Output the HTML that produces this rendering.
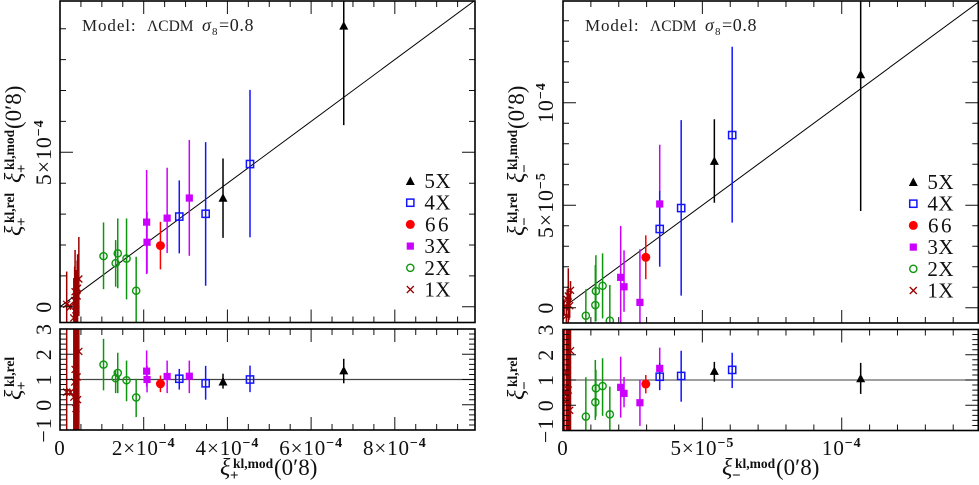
<!DOCTYPE html>
<html lang="en">
<head>
<meta charset="utf-8">
<title>Cosmic shear ratios</title>
<style>
html,body{margin:0;padding:0;background:#fff;width:979px;height:485px;overflow:hidden}
svg{display:block;font-family:"Liberation Serif",serif;fill:#111}
</style>
</head>
<body>
<svg id="chart" xmlns="http://www.w3.org/2000/svg" width="979" height="485" viewBox="0 0 979 485"></svg>
<script>
// Group order shared by both legends
const legendGroups = ['5X','4X','66','3X','2X','1X'];

// LEFT PANEL (x, y in units of 1e-4)
const plusGroups = ['1X','1X','1X','1X','1X','1X','1X','1X','1X','2X','2X','2X','2X','2X','3X','3X','3X','3X','66','4X','4X','4X','5X','5X'];
const plusX =      [0.16,0.25,0.33,0.36,0.38,0.35,0.41,0.42,0.45,1.04,1.38,1.33,1.59,1.82,3.09,2.56,2.07,2.08,2.40,4.54,3.48,2.85,6.78,3.895];
const plusY =      [0.08,0.00,-0.36,0.49,-0.10,0.20,0.35,0.60,0.90,1.64,1.73,1.41,1.56,0.52,3.52,2.87,2.74,2.09,1.98,4.62,3.01,2.92,9.10,3.53];
const plusYHi =    [1.14,0.10,0.93,1.84,1.19,1.30,1.50,1.70,2.26,2.73,2.86,2.16,2.86,1.62,5.40,4.50,4.43,3.08,2.75,7.02,5.33,4.09,12.3,4.80];
const plusYLo =    [-1.0,-0.10,-1.0,-0.50,-1.0,-0.90,-0.70,-0.50,-0.30,0.57,0.60,0.65,0.24,-0.58,1.65,1.74,1.06,1.09,1.21,2.25,0.68,1.73,5.88,2.23];
const plusRatio =  [0.50,0.50,0.30,1.40,-0.15,0.90,1.10,0.20,2.11,1.59,1.26,1.05,0.97,0.29,1.13,1.12,1.33,1.00,0.83,1.00,0.85,1.03,1.36,0.92];
const plusRatioHi =[5.0,0.60,5.0,5.0,5.0,5.0,5.0,5.0,5.0,2.61,2.06,1.36,1.75,1.03,1.75,1.75,2.15,1.55,1.16,1.55,1.54,1.42,1.82,1.23];
const plusRatioLo =[-3.0,0.40,-3.0,-3.0,-3.0,-3.0,-3.0,-3.0,-3.0,0.57,0.46,0.46,0.14,-0.49,0.46,0.46,0.72,0.49,0.50,0.50,0.20,0.60,0.85,0.64];
const plusXTicks = [0,2,4,6,8];
const plusXTickLabels = ['0','2×10^−4','4×10^−4','6×10^−4','8×10^−4'];
const plusYTicks = [0,5];
const plusYTickLabels = ['0','5×10^−4'];

// RIGHT PANEL (x, y in units of 1e-5)
const minusGroups = ['1X','1X','1X','1X','1X','1X','2X','2X','2X','2X','2X','3X','3X','3X','3X','66','4X','4X','4X','5X','5X'];
const minusX =      [0.04,0.12,0.15,0.19,0.24,0.27,0.82,1.16,1.18,1.42,1.68,2.76,2.07,2.19,3.47,2.97,6.07,4.24,3.47,10.68,5.43];
const minusY =      [0.05,-0.40,0.40,0.57,0.10,0.85,-0.39,0.13,0.81,1.07,-0.63,0.26,1.48,1.02,5.06,2.46,8.42,4.86,3.84,11.39,7.16];
const minusYHi =    [0.40,0.10,0.90,1.92,0.70,1.30,0.90,2.08,2.56,2.65,1.11,2.85,3.99,2.80,7.95,3.53,12.73,9.15,5.70,18.0,9.19];
const minusYLo =    [-0.40,-1.0,-0.10,-0.80,-0.50,0.30,-1.70,-0.68,-0.66,-0.52,-2.0,-2.30,-1.0,-0.20,2.13,1.39,4.15,0.59,2.00,4.72,5.12];
const minusRatio =  [0.50,1.30,0.20,0.60,-0.20,2.16,-0.45,0.12,0.67,0.76,-0.36,0.10,0.71,0.47,1.46,0.84,1.40,1.16,1.13,1.07,1.36];
const minusRatioHi =[5.0,5.0,5.0,5.0,5.0,5.0,1.11,1.79,1.40,1.86,0.74,1.00,1.92,1.12,2.28,1.20,2.08,2.16,1.67,1.68,1.72];
const minusRatioLo =[-3.0,-3.0,-3.0,-3.0,-3.0,-3.0,-1.5,-0.58,-0.45,-0.42,-1.5,-0.82,-0.49,-0.08,0.60,0.47,0.68,0.14,0.60,0.45,0.93];
const minusXTicks = [0,5,10];
const minusXTickLabels = ['0','5×10^−5','10^−4'];
const minusYTicks = [0,5,10];
const minusYTickLabels = ['0','5×10^−5','10^−4'];

// Shared ratio axis
const ratioTicks = [-1,0,1,2,3];
const ratioTickLabels = ['−1','0','1','2','3'];

const NS = 'http://www.w3.org/2000/svg';
const svg = document.getElementById('chart');
const palette = {'5X':'#000000','4X':'#1414ff','66':'#ff0000','3X':'#cc00ff','2X':'#0f960f','1X':'#990000'};

function el(tag, attrs, parent){
  const e = document.createElementNS(NS, tag);
  for (const k in attrs) e.setAttribute(k, attrs[k]);
  parent.appendChild(e);
  return e;
}
function scale(d0, d1, r0, r1){
  return v => r0 + (v - d0) * (r1 - r0) / (d1 - d0);
}

function drawMarker(parent, group, cx, cy){
  const c = palette[group];
  let m;
  if (group === '5X') {
    m = el('polygon', {points:`${cx-4.5},${cy+4} ${cx+4.5},${cy+4} ${cx},${cy-4.5}`, fill:c}, parent);
  } else if (group === '4X') {
    m = el('rect', {x:cx-3.6, y:cy-3.6, width:7.2, height:7.2, fill:'none', stroke:c, 'stroke-width':1.5}, parent);
  } else if (group === '66') {
    m = el('circle', {cx:cx, cy:cy, r:4.5, fill:c}, parent);
  } else if (group === '3X') {
    m = el('rect', {x:cx-3.6, y:cy-3.6, width:7.2, height:7.2, fill:c}, parent);
  } else if (group === '2X') {
    m = el('circle', {cx:cx, cy:cy, r:3.6, fill:'none', stroke:c, 'stroke-width':1.4}, parent);
  } else {
    m = el('path', {d:`M${cx-3.5} ${cy-3.5}L${cx+3.5} ${cy+3.5}M${cx-3.5} ${cy+3.5}L${cx+3.5} ${cy-3.5}`, fill:'none', stroke:c, 'stroke-width':1.3}, parent);
  }
  
  
}

function tickLabel(parent, label, x, y, rotated, size){
  const parts = label.split('^');
  const t = el('text', {
    'font-size':size, 'text-anchor':'middle', 'letter-spacing':0.9, fill:'#111',
    transform:`translate(${x},${y})` + (rotated ? ' rotate(-90)' : '')
  }, parent);
  
  
  const base = document.createElementNS(NS, 'tspan');
  base.textContent = parts[0];
  t.appendChild(base);
  if (parts[1]) {
    const sup = document.createElementNS(NS, 'tspan');
    sup.setAttribute('dy', -8);
    sup.setAttribute('font-size', 14);
    sup.setAttribute('font-weight', 'bold');
    sup.textContent = parts[1];
    t.appendChild(sup);
  }
}

function xiTitle(parent, x, y, rotated, sign, kind, withArg, name){
  const g = el('g', {transform:`translate(${x},${y})` + (rotated ? ' rotate(-90)' : '')}, parent);
  
  
  const xi = el('text', {x:0, y:0, 'font-size':24, 'font-style':'italic'}, g);
  xi.textContent = 'ξ';
  const sub = el('text', {x:10, y:5, 'font-size':15, 'font-weight':'bold'}, g);
  sub.textContent = sign;
  const sup = el('text', {x:13, y:-7, 'font-size':13.5, 'font-weight':'bold'}, g);
  sup.textContent = 'kl,' + kind;
  if (withArg) {
    const arg = el('text', {x:54, y:0, 'font-size':23}, g);
    arg.textContent = '(0′8)';
  }
}

function drawFrameTicks(g, x0, x1, y0, y1, xs, ys, xMinor, xMajor, yMinor, yMajor, xMax, yMin, yMax){
  let d = '';
  const minorLen = 6, majorLen = 13;
  for (let i = 0; i * xMinor <= xMax + 1e-9; i++) {
    const v = i * xMinor;
    if (i === 0) continue;
    const isMajor = Math.abs(v / xMajor - Math.round(v / xMajor)) < 1e-6;
    const len = isMajor ? majorLen : minorLen;
    d += `M${xs(v)} ${y0}v${len}M${xs(v)} ${y1}v${-len}`;
  }
  const n0 = Math.ceil(yMin / yMinor - 1e-9), n1 = Math.floor(yMax / yMinor + 1e-9);
  for (let i = n0; i <= n1; i++) {
    const v = i * yMinor;
    const isMajor = Math.abs(v / yMajor - Math.round(v / yMajor)) < 1e-6;
    const len = isMajor ? majorLen : minorLen;
    d += `M${x0} ${ys(v)}h${len}M${x1} ${ys(v)}h${-len}`;
  }
  const ticks = el('path', {d:d, fill:'none', stroke:'#111', 'stroke-width':1}, g);
  
  
  const frame = el('rect', {x:x0, y:y0, width:x1-x0, height:y1-y0, fill:'none', stroke:'#000', 'stroke-width':1.6}, g);
  
  
}

let clipId = 0;
function clip(x0, x1, y0, y1){
  const id = 'clip' + (++clipId);
  const cp = el('clipPath', {id:id}, svg);
  el('rect', {x:x0, y:y0, width:x1-x0, height:y1-y0}, cp);
  return id;
}

function drawSeries(g, groups, xVals, yVals, hiVals, loVals, xs, ys){
  groups.forEach((grp, i) => {
    const bar = el('line', {x1:xs(xVals[i]), x2:xs(xVals[i]), y1:ys(hiVals[i]), y2:ys(loVals[i]), stroke:palette[grp], 'stroke-width':1.5}, g);
    
    
  });
  groups.forEach((grp, i) => {
    drawMarker(g, grp, xs(xVals[i]), ys(yVals[i]));
  });
}

function drawPanel(cfg){
  const root = el('g', {}, svg);
  
  

  // main plot
  const xs = scale(0, cfg.xMax, cfg.x0, cfg.x1);
  const ys = scale(0, cfg.yUnitTop, cfg.yZero, cfg.yUnitTopPx);
  const yMin = (cfg.yZero - cfg.mainBottom) / ((cfg.yZero - cfg.yUnitTopPx) / cfg.yUnitTop);
  const yMax = (cfg.yZero - cfg.mainTop) / ((cfg.yZero - cfg.yUnitTopPx) / cfg.yUnitTop);

  const main = el('g', {}, root);
  
  
  const inner = el('g', {'clip-path':`url(#${clip(cfg.x0, cfg.x1, cfg.mainTop, cfg.mainBottom)})`}, main);
  const diag = el('line', {x1:xs(0), y1:ys(0), x2:xs(cfg.xMax), y2:ys(cfg.xMax), stroke:'#000', 'stroke-width':1}, inner);
  
  
  drawSeries(inner, cfg.groups, cfg.xVals, cfg.yVals, cfg.yHi, cfg.yLo, xs, ys);
  drawFrameTicks(main, cfg.x0, cfg.x1, cfg.mainTop, cfg.mainBottom, xs, ys, cfg.xMinor, cfg.xMajor, cfg.yMinor, cfg.yMajor, cfg.xMax, yMin, yMax);

  // ratio plot
  const ry = scale(-1, 3, cfg.ratioBottom, cfg.ratioTop);
  const lower = el('g', {}, root);
  
  
  const rInner = el('g', {'clip-path':`url(#${clip(cfg.x0, cfg.x1, cfg.ratioTop, cfg.ratioBottom)})`}, lower);
  const unity = el('line', {x1:cfg.x0, x2:cfg.x1, y1:ry(1), y2:ry(1), stroke:cfg.unityColor, 'stroke-width':1.2}, rInner);
  
  
  drawSeries(rInner, cfg.groups, cfg.xVals, cfg.ratio, cfg.ratioHi, cfg.ratioLo, xs, ry);
  drawFrameTicks(lower, cfg.x0, cfg.x1, cfg.ratioTop, cfg.ratioBottom, xs, ry, cfg.xMinor, cfg.xMajor, 0.2, 1, cfg.xMax, -1, 3);

  // tick labels
  cfg.xTicks.forEach((v, i) => {
    tickLabel(root, cfg.xTickLabels[i], xs(v), 455, false, 21);
  });
  cfg.yTicks.forEach((v, i) => {
    tickLabel(root, cfg.yTickLabels[i], cfg.yLabelX, ys(v), true, 22);
  });
  ratioTicks.forEach((v, i) => {
    tickLabel(root, ratioTickLabels[i], cfg.yLabelX, ry(v), true, 22);
  });

  // annotation
  const note = el('g', {fill:'#222'}, root);
  
  
  const a = cfg.noteX;
  const t1 = el('text', {x:a, y:31, 'font-size':17, 'letter-spacing':0.9}, note);
  t1.textContent = 'Model:';
  const t2 = el('text', {x:a+65, y:31, 'font-size':15.5}, note);
  t2.textContent = 'ΛCDM';
  const t3 = el('text', {x:a+120, y:31, 'font-size':18, 'font-style':'italic'}, note);
  t3.textContent = 'σ';
  const t4 = el('text', {x:a+130, y:35, 'font-size':11}, note);
  t4.textContent = '8';
  const t5 = el('text', {x:a+137, y:31, 'font-size':18, 'letter-spacing':0.6}, note);
  t5.textContent = '=0.8';

  // legend
  const leg = el('g', {}, root);
  
  
  legendGroups.forEach((grp, i) => {
    const ly = cfg.legendY + i * 21.7;
    const entry = el('g', {}, leg);
    
    
    drawMarker(entry, grp, cfg.legendMarkerX, ly);
    const lt = el('text', {x:cfg.legendTextX, y:ly+7, 'font-size':21, 'text-anchor':'end', 'letter-spacing':grp === '66' ? 2.5 : 0.5}, entry);
    lt.textContent = grp;
  });

  // axis titles
  xiTitle(root, cfg.xTitleX, 475, false, cfg.sign, 'mod', true, 'x-axis-title');
  xiTitle(root, cfg.titleX, 183, true, cfg.sign, 'mod', true, 'y-axis-title-model');
  xiTitle(root, cfg.titleX, 236, true, cfg.sign, 'rel', false, 'y-axis-title-measured');
  xiTitle(root, cfg.titleX, 400, true, cfg.sign, 'rel', false, 'y-axis-title-ratio');
}

drawPanel({
  name:'xi-plus-panel', sign:'+',
  x0:60, x1:475, xMax:9.916, xMinor:0.5, xMajor:2,
  mainTop:1, mainBottom:322.5, yZero:306.8, yUnitTop:5, yUnitTopPx:152.3, yMinor:1, yMajor:5,
  ratioTop:329, ratioBottom:430, unityColor:'#444',
  groups:plusGroups, xVals:plusX, yVals:plusY, yHi:plusYHi, yLo:plusYLo,
  ratio:plusRatio, ratioHi:plusRatioHi, ratioLo:plusRatioLo,
  xTicks:plusXTicks, xTickLabels:plusXTickLabels, yTicks:plusYTicks, yTickLabels:plusYTickLabels,
  yLabelX:51, noteX:82, legendY:181, legendMarkerX:410.3, legendTextX:451,
  xTitleX:220, titleX:21
});
drawPanel({
  name:'xi-minus-panel', sign:'−',
  x0:563, x1:978.3, xMax:14.9, xMinor:1, xMajor:5,
  mainTop:1, mainBottom:323, yZero:307.7, yUnitTop:5, yUnitTopPx:205.2, yMinor:1, yMajor:5,
  ratioTop:329.5, ratioBottom:430.5, unityColor:'#666',
  groups:minusGroups, xVals:minusX, yVals:minusY, yHi:minusYHi, yLo:minusYLo,
  ratio:minusRatio, ratioHi:minusRatioHi, ratioLo:minusRatioLo,
  xTicks:minusXTicks, xTickLabels:minusXTickLabels, yTicks:minusYTicks, yTickLabels:minusYTickLabels,
  yLabelX:553, noteX:585, legendY:182, legendMarkerX:913.3, legendTextX:954,
  xTitleX:722, titleX:524
});
</script>
</body>
</html>
